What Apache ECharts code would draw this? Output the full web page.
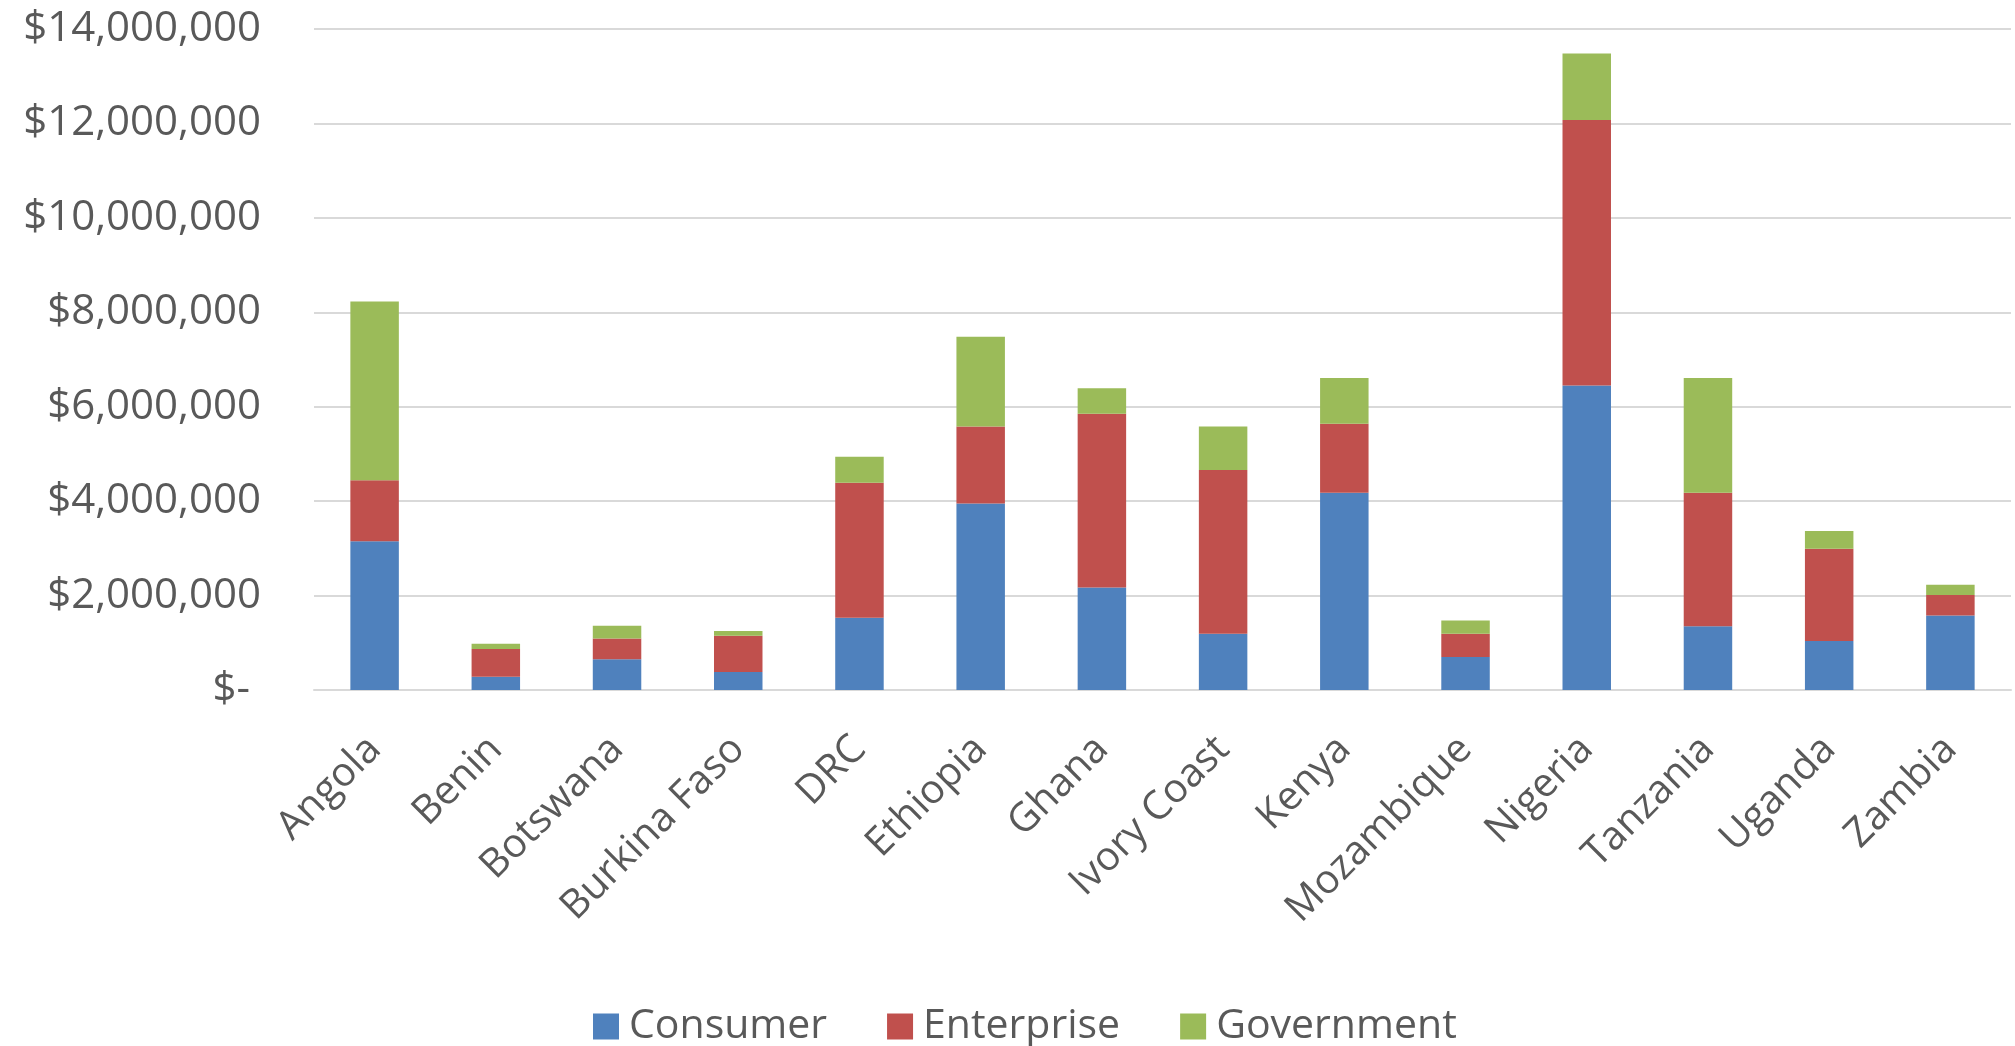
<!DOCTYPE html>
<html>
<head>
<meta charset="utf-8">
<script src="https://cdn.jsdelivr.net/npm/echarts@6/dist/echarts.min.js"></script>
<style>
html,body{margin:0;padding:0;background:#fff;}
#chart{width:2015px;height:1046px;}
</style>
</head>
<body>
<div id="chart"></div>
<script>
const categories = ["Angola","Benin","Botswana","Burkina Faso","DRC","Ethiopia","Ghana","Ivory Coast","Kenya","Mozambique","Nigeria","Tanzania","Uganda","Zambia"];
const consumer   = [3150000, 280000, 650000, 380000, 1530000, 3950000, 2170000, 1190000, 4180000, 700000, 6450000, 1350000, 1040000, 1580000];
const enterprise = [1290000, 590000, 440000, 770000, 2860000, 1630000, 3680000, 3470000, 1460000, 490000, 5620000, 2830000, 1950000, 430000];
const government = [3790000, 110000, 270000, 100000, 550000, 1900000, 540000, 920000, 970000, 280000, 1410000, 2430000, 380000, 220000];
const seriesNames = ["Consumer","Enterprise","Government"];
const yTicks = { min: 0, max: 14000000, interval: 2000000 };

const FONT = '"Open Sans", "Noto Sans", sans-serif';
const TXT = '#595959';
const colors = ['#4F81BD','#C0504D','#9BBB59'];

function money(v){
  if (v === 0) return '$- ';
  return '$' + v.toLocaleString('en-US');
}

const chart = echarts.init(document.getElementById('chart'), null, {renderer:'canvas'});
const data = [consumer, enterprise, government];
chart.setOption({
  animation: false,
  color: colors,
  textStyle: { fontFamily: FONT },
  grid: { left: 314, right: 4, top: 29, bottom: 356, containLabel: false },
  legend: {
    data: seriesNames,
    left: 588,
    top: 1001,
    icon: 'rect',
    itemWidth: 26,
    itemHeight: 26,
    itemGap: 60,
    textStyle: { fontFamily: FONT, fontSize: 41, color: TXT, padding: [0,0,0,5] }
  },
  xAxis: {
    type: 'category',
    data: categories,
    axisLine: { show: true, lineStyle: { color: '#d9d9d9', width: 2 } },
    axisTick: { show: false },
    axisLabel: { rotate: 45, margin: 53, fontFamily: FONT, fontSize: 40, color: TXT, interval: 0 }
  },
  yAxis: {
    type: 'value',
    min: yTicks.min, max: yTicks.max, interval: yTicks.interval,
    axisLine: { show: false },
    axisTick: { show: false },
    splitLine: { lineStyle: { color: '#d9d9d9', width: 2 } },
    axisLabel: { formatter: money, margin: 53, fontFamily: FONT, fontSize: 42, color: TXT }
  },
  series: seriesNames.map((n, i) => ({
    name: n,
    type: 'bar',
    stack: 'total',
    data: data[i],
    barWidth: '40%',
    itemStyle: { color: colors[i] }
  }))
});
</script>
</body>
</html>
